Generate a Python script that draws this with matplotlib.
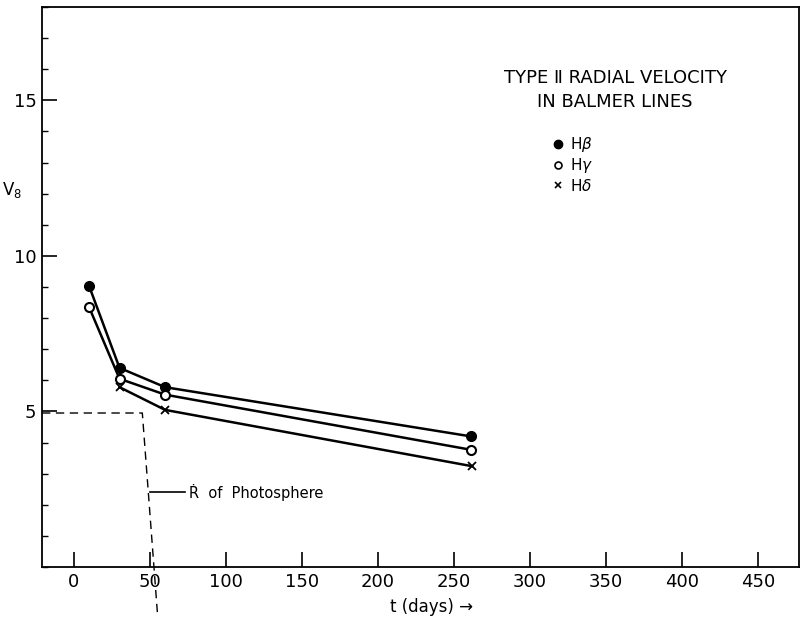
import numpy as np
import matplotlib.pyplot as plt
from matplotlib.lines import Line2D
from matplotlib.ticker import MultipleLocator

# type II radial velocity in balmer lines
t_beta = [10, 30, 60, 261]
v_beta = [9.03, 6.40, 5.78, 4.20]
t_gamma = [10, 30, 60, 261]
v_gamma = [8.35, 6.05, 5.54, 3.77]
t_delta = [30, 60, 262]
v_delta = [5.78, 5.05, 3.24]

# dashed R-dot of photosphere
t_phot = [-21, 45, 55]
v_phot = [4.95, 4.95, -1.52]

plt.rcParams['font.family'] = ['DejaVu Sans']

fig = plt.figure(figsize=(8.03, 6.18), dpi=100)
ax = fig.add_axes([0.0523, 0.0825, 0.9427, 0.9062])

ax.plot(t_beta, v_beta, '-', color='black', lw=1.8, marker='o',
        ms=7, mfc='black', mec='black')
ax.plot(t_gamma, v_gamma, '-', color='black', lw=1.8, marker='o',
        ms=6.5, mfc='white', mec='black', mew=1.5)
ax.plot(t_delta, v_delta, '-', color='black', lw=1.8, marker='x',
        ms=5.5, mec='black', mew=1.3)

ax.plot(t_phot, v_phot, '--', color='black', lw=1.0, dashes=(6, 4),
        clip_on=False)

# leader + label
ax.plot([50, 73], [2.4, 2.4], color='black', lw=1.2)
ax.text(76, 2.4, '\u1E58  of  Photosphere', fontsize=10.5, va='center', ha='left')

ax.set_xlim(-21, 477)
ax.set_ylim(0, 18)
ax.set_xticks(np.arange(0, 451, 50))
ax.yaxis.set_major_locator(MultipleLocator(5))
ax.yaxis.set_minor_locator(MultipleLocator(1))
ax.set_yticks([5, 10, 15])
ax.tick_params(axis='both', which='major', direction='in', length=11,
               width=1.2, labelsize=13, pad=4)
ax.tick_params(axis='y', which='minor', direction='in', length=4, width=1.0)
for s in ax.spines.values():
    s.set_linewidth(1.3)

ax.text(-0.04, 0.673, 'V$_8$', transform=ax.transAxes, fontsize=12,
        ha='center', va='center')
ax.text(235, -1.28, 't (days) \u2192', fontsize=12, ha='center', va='center',
        clip_on=False)

ax.text(356, 15.72, 'TYPE \u2161 RADIAL VELOCITY', fontsize=13, ha='center', va='center')
ax.text(356, 14.95, 'IN BALMER LINES', fontsize=13, ha='center', va='center')

handles = [
    Line2D([], [], ls='none', marker='o', ms=6, mfc='black', mec='black'),
    Line2D([], [], ls='none', marker='o', ms=5, mfc='white', mec='black', mew=1.2),
    Line2D([], [], ls='none', marker='x', ms=5, mec='black', mew=1.2),
]
ax.legend(handles, ['H$\\beta$', 'H$\\gamma$', 'H$\\delta$'], loc='upper left',
          bbox_to_anchor=(0.665, 0.785), frameon=False, fontsize=11,
          handlelength=0.6, handletextpad=0.5, labelspacing=0.15,
          borderpad=0.0)

fig.savefig('out.png', dpi=100)
